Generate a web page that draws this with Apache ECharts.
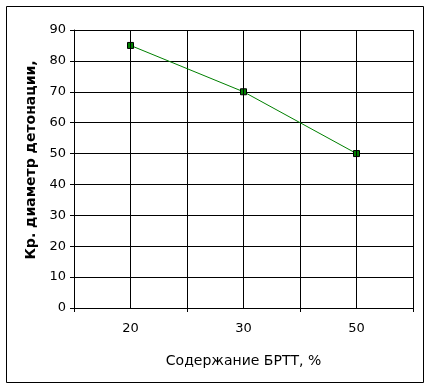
<!DOCTYPE html>
<html><head><meta charset="utf-8">
<script src="https://cdn.jsdelivr.net/npm/echarts@6/dist/echarts.min.js"></script>
<style>html,body{margin:0;padding:0;background:#fff}#c{width:431px;height:388px}</style>
</head><body><div id="c"></div>
<script>
const categories = ['20', '30', '50'];
const values = [85, 70, 50];
const yTitle = 'Кр. диаметр детонации,';
const xTitle = 'Содержание БРТТ, %';

const chart = echarts.init(document.getElementById('c'), null, {renderer: 'canvas'});
const font = 'DejaVu Sans';
chart.setOption({
  animation: false,
  backgroundColor: '#fff',
  graphic: [{type: 'rect', shape: {x: 6.5, y: 6.5, width: 417, height: 376}, style: {fill: 'none', stroke: '#000', lineWidth: 1}}],
  grid: {left: 74, right: 18, top: 30, bottom: 80},
  xAxis: {
    type: 'category', data: categories, boundaryGap: true,
    name: xTitle, nameLocation: 'middle', nameGap: 46,
    nameTextStyle: {fontFamily: font, fontSize: 14, color: '#000'},
    axisLine: {show: true, lineStyle: {color: '#000', width: 1}},
    axisTick: {show: true, length: 4, lineStyle: {color: '#000'}},
    axisLabel: {fontFamily: font, fontSize: 13, color: '#000', margin: 14},
    splitLine: {show: true, lineStyle: {color: '#000', width: 1}}
  },
  yAxis: {
    type: 'value', min: 0, max: 90, interval: 10,
    name: yTitle, nameLocation: 'middle', nameGap: 36,
    nameTextStyle: {fontFamily: font, fontSize: 14, fontWeight: 'bold', color: '#000', padding: [0, 0, 0, 18]},
    axisLine: {show: true, lineStyle: {color: '#000', width: 1}},
    axisTick: {show: true, length: 4, lineStyle: {color: '#000'}},
    axisLabel: {fontFamily: font, fontSize: 13, color: '#000', margin: 8},
    splitLine: {show: true, lineStyle: {color: '#000', width: 1}}
  },
  series: [{
    type: 'line', data: values,
    symbol: 'rect', symbolSize: 6,
    lineStyle: {color: '#008000', width: 1},
    itemStyle: {color: '#008000', borderColor: '#000', borderWidth: 1},
    markLine: {
      silent: true, symbol: ['none', 'none'], label: {show: false},
      lineStyle: {color: '#000', width: 1, type: 'solid'},
      data: categories.map(c => ({xAxis: c}))
    }
  }]
});
</script></body></html>
